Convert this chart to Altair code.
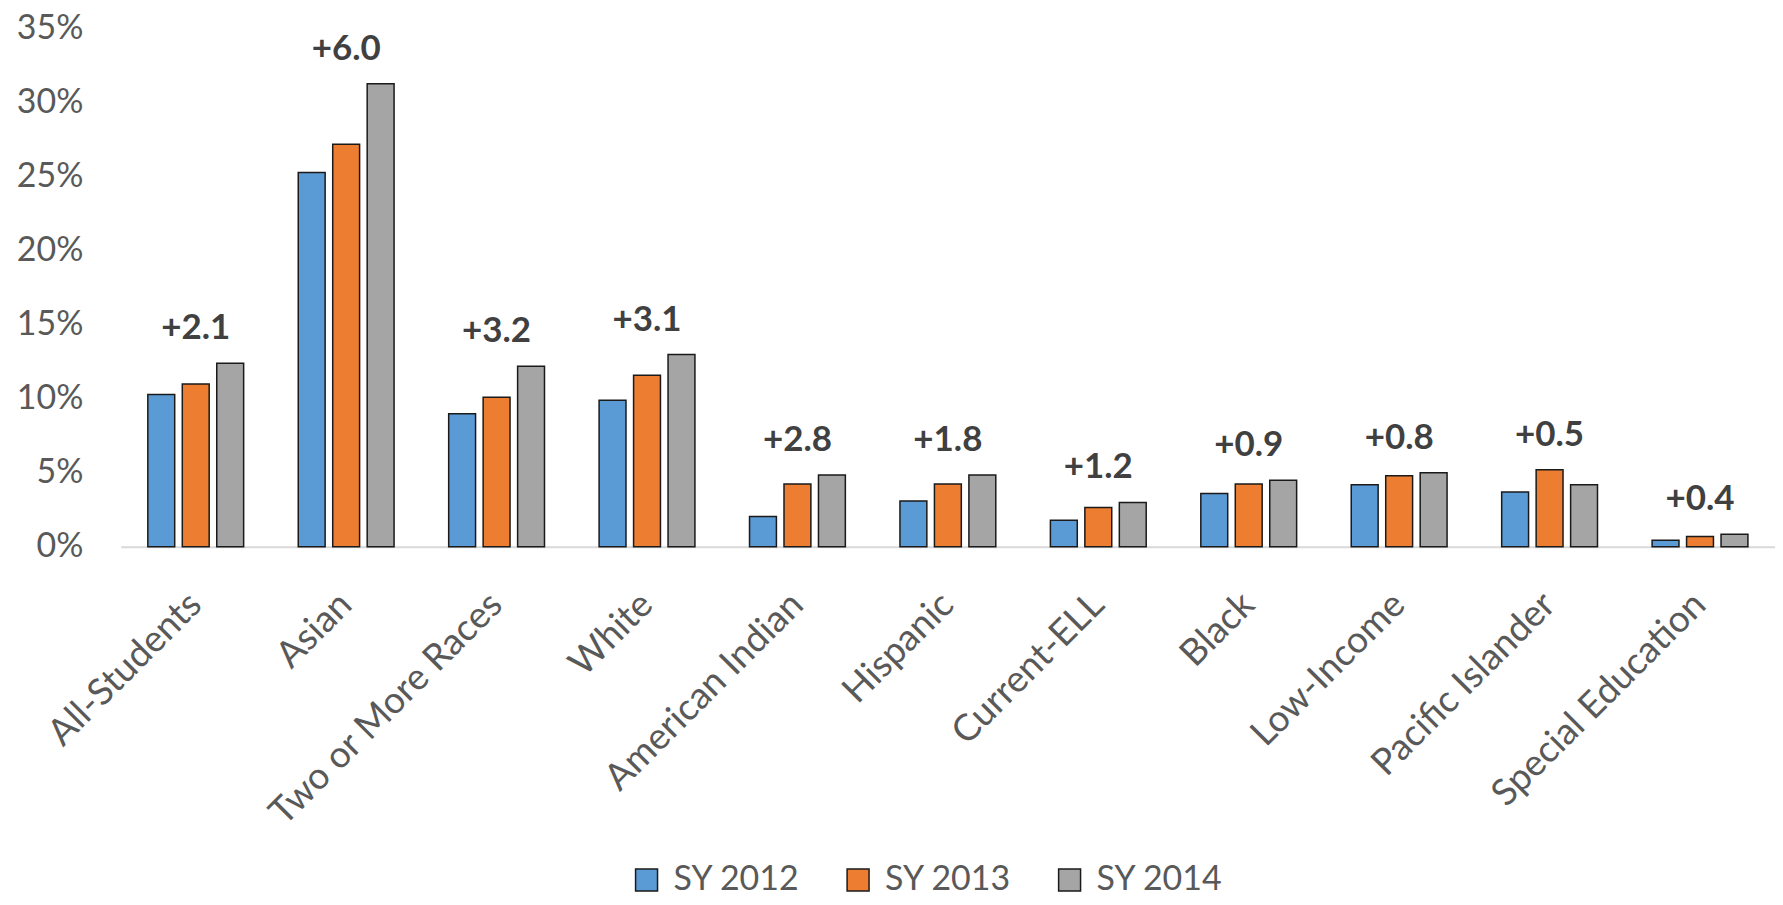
import altair as alt
import pandas as pd

categories = ["All-Students", "Asian", "Two or More Races", "White", "American Indian",
              "Hispanic", "Current-ELL", "Black", "Low-Income", "Pacific Islander",
              "Special Education"]
series = ["SY 2012", "SY 2013", "SY 2014"]
sy2012 = [10.3, 25.3, 9.0, 9.9, 2.05, 3.1, 1.8, 3.6, 4.2, 3.7, 0.45]
sy2013 = [11.0, 27.2, 10.1, 11.6, 4.25, 4.25, 2.65, 4.25, 4.8, 5.2, 0.7]
sy2014 = [12.4, 31.3, 12.2, 13.0, 4.86, 4.86, 3.0, 4.5, 5.0, 4.2, 0.85]
changes = [2.1, 6.0, 3.2, 3.1, 2.8, 1.8, 1.2, 0.9, 0.8, 0.5, 0.4]
colors = ["#5B9BD5", "#ED7D31", "#A5A5A5"]

rows = []
for i, c in enumerate(categories):
    for s, vals in zip(series, [sy2012, sy2013, sy2014]):
        rows.append({"group": c, "year": s, "value": vals[i] / 100})
df = pd.DataFrame(rows)

lab = pd.DataFrame({
    "group": categories,
    "top": [max(a, b, c) / 100 for a, b, c in zip(sy2012, sy2013, sy2014)],
    "label": ["+{:.1f}".format(v) for v in changes],
})

FONT = "Lato"

x_enc = alt.X("group:N", sort=categories, title=None,
              scale=alt.Scale(paddingInner=0.363, paddingOuter=0.18),
              axis=alt.Axis(labelAngle=-45, labelAlign="right", labelBaseline="middle",
                            labelFontSize=37, labelFont=FONT, labelColor="#595959",
                            labelPadding=52, ticks=False, tickSize=0,
                            domainColor="#D9D9D9", domainWidth=2, labelLimit=400))
y_scale = alt.Scale(domain=[0, 0.35], nice=False)

bars = alt.Chart(df).mark_bar(stroke="#1a1a1a", strokeWidth=1.5).encode(
    x=x_enc,
    xOffset=alt.XOffset("year:N", sort=series,
                        scale=alt.Scale(paddingInner=0.22, paddingOuter=0)),
    y=alt.Y("value:Q", scale=y_scale, title=None,
            axis=alt.Axis(values=[0, 0.05, 0.1, 0.15, 0.2, 0.25, 0.3, 0.35], format=".0%",
                          grid=False, domain=False, ticks=False, labelPadding=38,
                          labelFontSize=34, labelFont=FONT, labelColor="#595959")),
    fill=alt.Fill("year:N", sort=series,
                  scale=alt.Scale(domain=series, range=colors),
                  legend=alt.Legend(title=None, orient="none", direction="horizontal",
                                    legendX=510, legendY=836, symbolType="square",
                                    symbolSize=484, symbolStrokeColor="#1a1a1a",
                                    symbolStrokeWidth=1.5, labelFontSize=34, labelFont=FONT,
                                    labelColor="#595959", labelOffset=10, columnPadding=41,
                                    padding=0, labelLimit=300)),
)

texts = alt.Chart(lab).mark_text(font=FONT, fontSize=35, fontWeight="bold",
                                 color="#404040", baseline="middle", dy=-35).encode(
    x=alt.X("group:N", sort=categories),
    y=alt.Y("top:Q", scale=y_scale),
    text="label:N",
)

chart = alt.layer(bars, texts).properties(
    width=1658, height=519,
    autosize=alt.AutoSizeParams(type="none"),
    padding={"left": 113, "top": 20, "right": 0, "bottom": 350},
).configure_view(stroke=None)

chart.save("out.html", embed_options={"renderer": "svg", "actions": False})
